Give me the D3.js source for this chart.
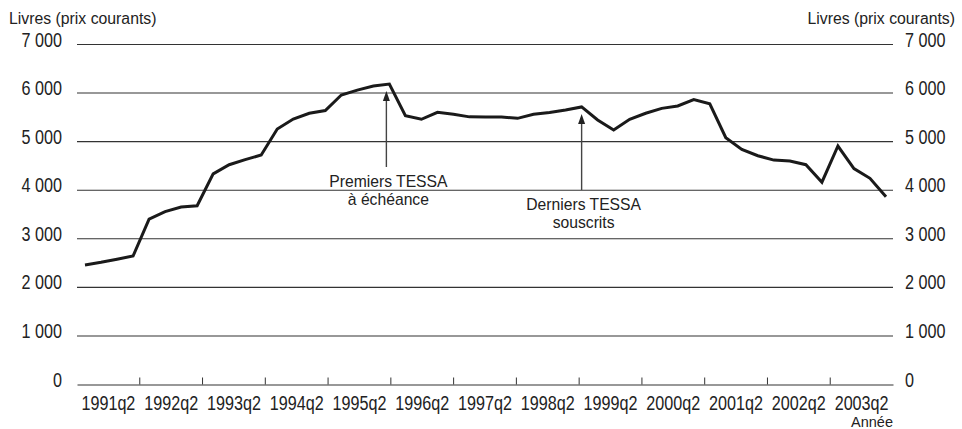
<!DOCTYPE html>
<html>
<head>
<meta charset="utf-8">
<script src="https://cdn.jsdelivr.net/npm/d3@7"></script>
<style>
  body { margin: 0; background: #fff; }
  svg { display: block; }
  .lbl { font-family: "Liberation Sans", Arial, sans-serif; fill: #222; }
  .tick text { font-family: "Liberation Sans", Arial, sans-serif; fill: #222; }
</style>
</head>
<body>
<div id="chart"></div>
<script>

/* quarterly series, 1991q2 - 2003q4 */
var quarters = [
  "1991q2","1991q3","1991q4",
  "1992q1","1992q2","1992q3","1992q4",
  "1993q1","1993q2","1993q3","1993q4",
  "1994q1","1994q2","1994q3","1994q4",
  "1995q1","1995q2","1995q3","1995q4",
  "1996q1","1996q2","1996q3","1996q4",
  "1997q1","1997q2","1997q3","1997q4",
  "1998q1","1998q2","1998q3","1998q4",
  "1999q1","1999q2","1999q3","1999q4",
  "2000q1","2000q2","2000q3","2000q4",
  "2001q1","2001q2","2001q3","2001q4",
  "2002q1","2002q2","2002q3","2002q4",
  "2003q1","2003q2","2003q3","2003q4"
];

var values = [
  2460, 2515, 2580,
  2645, 3405, 3560, 3655,
  3680, 4335, 4525, 4630,
  4725, 5260, 5465, 5585,
  5640, 5960, 6060, 6145,
  6185, 5535, 5460, 5605,
  5565, 5510, 5505, 5505,
  5480, 5565, 5600, 5650,
  5715, 5445, 5240, 5460,
  5585, 5685, 5735, 5865,
  5780, 5080, 4840, 4710,
  4620, 4600, 4525, 4165,
  4910, 4445, 4245, 3865
];

var yearLabels = ["1991q2","1992q2","1993q2","1994q2","1995q2","1996q2","1997q2",
                  "1998q2","1999q2","2000q2","2001q2","2002q2","2003q2"];

var yTicks = [0, 1000, 2000, 3000, 4000, 5000, 6000, 7000];

var notes = [
  {q: "1996q1", text: ["Premiers TESSA", "à échéance"]},
  {q: "1999q1", text: ["Derniers TESSA", "souscrits"]}
];

var W = 962, H = 429;
var plotL = 77, plotR = 893, plotT = 44.5, plotB = 384.5;
var sx = 0.83;   // condensed look for the tick labels

var svg = d3.select("#chart").append("svg")
  .attr("width", W)
  .attr("height", H);

var y = d3.scaleLinear().domain([0, 7000]).range([plotB, plotT]);
var xq = d3.scalePoint().domain(quarters).range([85, 886]);
var xb = d3.scaleBand().domain(yearLabels).range([plotL, plotR]);

var fr = d3.formatLocale({decimal: ",", thousands: " ", grouping: [3], currency: ["", ""]});
var fmt = fr.format(",");

/* grid lines */
svg.append("g").attr("class", "grid")
  .selectAll("line")
  .data(yTicks.filter(function(d) { return d > 0; }))
  .enter().append("line")
    .attr("x1", plotL)
    .attr("x2", plotR)
    .attr("y1", function(d) { return y(d); })
    .attr("y2", function(d) { return y(d); })
    .attr("stroke", "#333")
    .attr("stroke-width", 1.1);

/* y axes, left and right */
var yL = svg.append("g")
  .attr("transform", "translate(" + plotL + ",0)")
  .call(d3.axisLeft(y).tickValues(yTicks).tickFormat(fmt).tickSize(0));
var yR = svg.append("g")
  .attr("transform", "translate(" + plotR + ",0)")
  .call(d3.axisRight(y).tickValues(yTicks).tickFormat(fmt).tickSize(0));
yL.selectAll("text").attr("x", -15 / sx);
yR.selectAll("text").attr("x", 12 / sx);
[yL, yR].forEach(function(a) {
  a.select(".domain").remove();
  a.selectAll("text")
    .attr("dy", "1.5")
    .attr("transform", "scale(" + sx + ",1)")
    .style("font-size", "19.5px");
});

/* x axis: labels centred on years, ticks on year boundaries */
var gX = svg.append("g")
  .attr("transform", "translate(0," + plotB + ")")
  .call(d3.axisBottom(xb).tickSize(0).tickSizeOuter(0));
gX.select(".domain").attr("stroke", "#333").attr("stroke-width", 1.2);
gX.selectAll("text")
  .attr("y", 26)
  .attr("dy", 0)
  .attr("transform", "scale(" + sx + ",1)")
  .style("font-size", "19.5px");

gX.selectAll("line.yr")
  .data(yearLabels.slice(1))
  .enter().append("line")
    .attr("class", "yr")
    .attr("x1", function(d) { return xb(d); })
    .attr("x2", function(d) { return xb(d); })
    .attr("y1", -7)
    .attr("y2", 0)
    .attr("stroke", "#333");

/* the series */
var line = d3.line()
  .x(function(d, i) { return xq(quarters[i]); })
  .y(function(d) { return y(d); });

svg.append("path")
  .datum(values)
  .attr("fill", "none")
  .attr("stroke", "#1a1a1a")
  .attr("stroke-width", 3)
  .attr("d", line);

/* annotations */
var nShift = [-3, 0],
    nBase = [187, 210];
notes.forEach(function(n, k) {
  var v = values[quarters.indexOf(n.q)];
  var ax = xq(n.q) + nShift[k],
      tip = y(v) + 7,
      base = nBase[k];
  svg.append("line")
    .attr("x1", ax).attr("x2", ax)
    .attr("y1", base - 20).attr("y2", tip + 8)
    .attr("stroke", "#444")
    .attr("stroke-width", 1.4);
  svg.append("path")
    .attr("d", "M" + ax + "," + tip + "L" + (ax - 3.5) + "," + (tip + 10) + "L" + (ax + 3.5) + "," + (tip + 10) + "Z")
    .attr("fill", "#222");
  n.text.forEach(function(t, j) {
    svg.append("text")
      .attr("class", "lbl")
      .attr("x", ax + 2)
      .attr("y", base + j * 18)
      .attr("text-anchor", "middle")
      .style("font-size", "15.7px")
      .text(t);
  });
});

/* unit labels */
svg.append("text").attr("class", "lbl")
  .attr("x", 9).attr("y", 24)
  .style("font-size", "15.8px")
  .text("Livres (prix courants)");
svg.append("text").attr("class", "lbl")
  .attr("x", 955).attr("y", 24)
  .attr("text-anchor", "end")
  .style("font-size", "15.8px")
  .text("Livres (prix courants)");
svg.append("text").attr("class", "lbl")
  .attr("x", 893).attr("y", 427)
  .attr("text-anchor", "end")
  .style("font-size", "14.5px")
  .text("Année");

</script>
</body>
</html>
